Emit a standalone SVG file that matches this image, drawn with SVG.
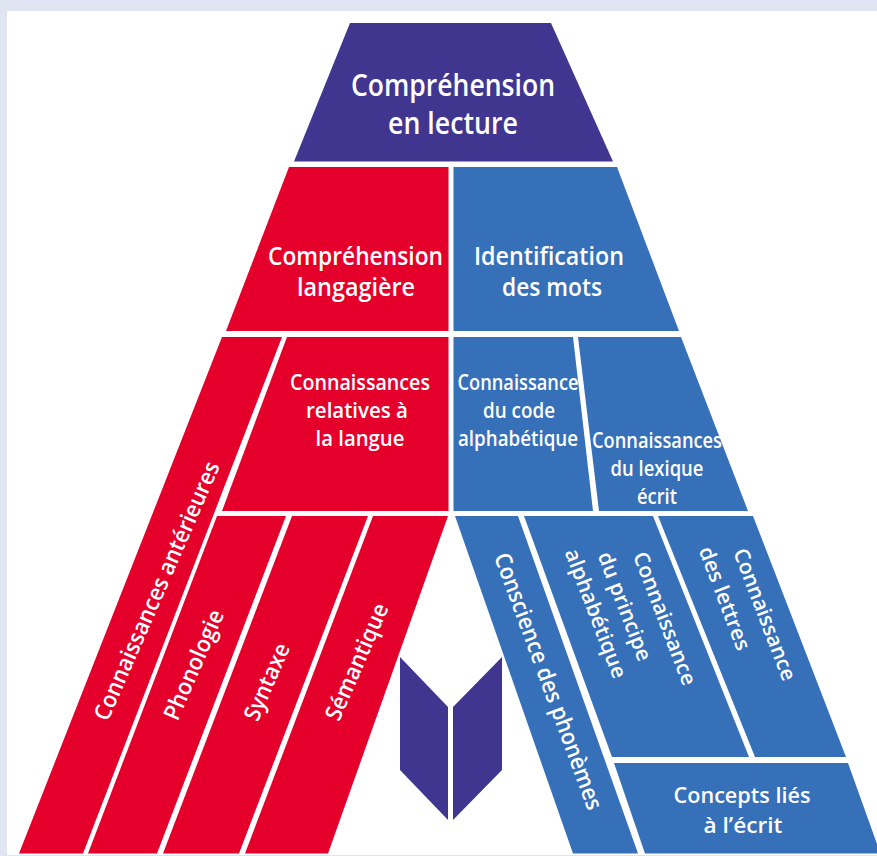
<svg xmlns="http://www.w3.org/2000/svg" width="877" height="856" viewBox="0 0 877 856">
<style>
.r{fill:#e4002b}.b{fill:#3670b8}.v{fill:#41368f}
text{font-family:"Open Sans","Noto Sans","Liberation Sans",sans-serif;fill:#fff;text-anchor:middle;font-weight:600}
.t1{font-size:31px}.t2{font-size:25px}.t3{font-size:21px}.t4{font-size:23px}
</style>
<rect width="877" height="856" fill="#dfe6f1"/>
<rect x="7" y="11" width="870" height="844" fill="#fff"/>
<g id="top"><polygon class="v" points="350,23 551,23 613,161.5 294,161.5"/>
<text class="t1" x="453" y="96" textLength="204" lengthAdjust="spacingAndGlyphs">Compréhension</text><text class="t1" x="453" y="134" textLength="130" lengthAdjust="spacingAndGlyphs">en lecture</text></g>
<g id="comprehension-langagiere"><polygon class="r" points="289,167 448.5,167 448.5,331 226,331"/>
<text class="t2" x="355.5" y="265" textLength="175" lengthAdjust="spacingAndGlyphs">Compréhension</text><text class="t2" x="356" y="296" textLength="118" lengthAdjust="spacingAndGlyphs">langagière</text></g>
<g id="identification"><polygon class="b" points="453.5,167 617,167 679,331 453.5,331"/>
<text class="t2" x="549" y="265" textLength="150" lengthAdjust="spacingAndGlyphs">Identification</text><text class="t2" x="552" y="296" textLength="100" lengthAdjust="spacingAndGlyphs">des mots</text></g>
<g id="connaissances-anterieures"><polygon class="r" points="222,337 282,337 83,853.5 19,853.5"/>
<text class="t4" transform="translate(164,594) rotate(-66.3)" textLength="280" lengthAdjust="spacingAndGlyphs">Connaissances antérieures</text></g>
<g id="relatives"><polygon class="r" points="287,337 448.5,337 448.5,511 222,511"/>
<text class="t3" x="360" y="390" textLength="140" lengthAdjust="spacingAndGlyphs">Connaissances</text><text class="t3" x="357" y="418" textLength="102" lengthAdjust="spacingAndGlyphs">relatives à</text><text class="t3" x="360" y="446" textLength="89" lengthAdjust="spacingAndGlyphs">la langue</text></g>
<g id="phonologie"><polygon class="r" points="217,516 286,516 157,853.5 88,853.5"/>
<text class="t4" transform="translate(201,668) rotate(-66.5)" textLength="118" lengthAdjust="spacingAndGlyphs">Phonologie</text></g>
<g id="syntaxe"><polygon class="r" points="292,516 368,516 239,853.5 163,853.5"/>
<text class="t4" transform="translate(274,685) rotate(-66.5)" textLength="82" lengthAdjust="spacingAndGlyphs">Syntaxe</text></g>
<g id="semantique"><polygon class="r" points="373,516 448,516 328,853.5 245,853.5"/>
<text class="t4" transform="translate(364,665) rotate(-66.5)" textLength="125" lengthAdjust="spacingAndGlyphs">Sémantique</text></g>
<g id="code"><polygon class="b" points="453.5,337 573,337 593,511 453.5,511"/>
<text class="t3" x="518" y="390" textLength="121" lengthAdjust="spacingAndGlyphs">Connaissance</text><text class="t3" x="519" y="418" textLength="72" lengthAdjust="spacingAndGlyphs">du code</text><text class="t3" x="518" y="446" textLength="120" lengthAdjust="spacingAndGlyphs">alphabétique</text></g>
<g id="lexique"><polygon class="b" points="578,337 681,337 748,511 599,511"/>
<text class="t3" x="657" y="448" textLength="130" lengthAdjust="spacingAndGlyphs">Connaissances</text><text class="t3" x="657" y="476" textLength="93" lengthAdjust="spacingAndGlyphs">du lexique</text><text class="t3" x="657" y="504" textLength="40" lengthAdjust="spacingAndGlyphs">écrit</text></g>
<g id="phonemes"><polygon class="b" points="455,516 518,516 638,853.5 573,853.5"/>
<text class="t4" transform="translate(541,684) rotate(69.7)" textLength="272" lengthAdjust="spacingAndGlyphs">Conscience des phonèmes</text></g>
<g id="principe"><polygon class="b" points="524,516 653,516 749,757 612,757"/>
<text class="t3" transform="translate(658,621) rotate(69)" textLength="141" lengthAdjust="spacingAndGlyphs">Connaissance</text>
<text class="t3" transform="translate(618,609) rotate(69)" textLength="115" lengthAdjust="spacingAndGlyphs">du principe</text>
<text class="t3" transform="translate(589,616) rotate(69)" textLength="137" lengthAdjust="spacingAndGlyphs">alphabétique</text></g>
<g id="lettres"><polygon class="b" points="658,516 753,516 846,757 755,757"/>
<text class="t3" transform="translate(758,617) rotate(69)" textLength="140" lengthAdjust="spacingAndGlyphs">Connaissance</text>
<text class="t3" transform="translate(718,601) rotate(69)" textLength="109" lengthAdjust="spacingAndGlyphs">des lettres</text></g>
<g id="concepts"><polygon class="b" points="614,763 848,763 877,844 877,853.5 645,853.5"/>
<text class="t3" x="742" y="803" textLength="137" lengthAdjust="spacingAndGlyphs">Concepts liés</text><text class="t3" x="743" y="833" textLength="79" lengthAdjust="spacingAndGlyphs">à l’écrit</text></g>
<g id="livre"><polygon class="v" points="400,657 448,707 448,820 400,770"/><polygon class="v" points="453,707 502,657 502,770 453,820"/></g>
<g id="connectors"/>
</svg>
